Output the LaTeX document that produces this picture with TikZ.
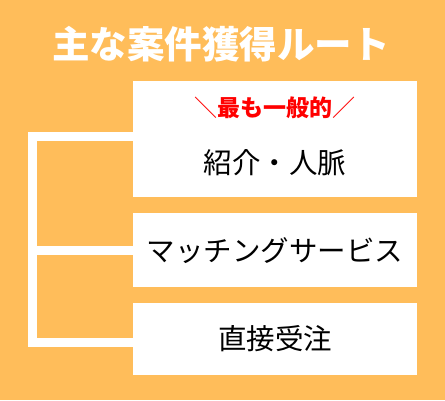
\documentclass[tikz,border=0pt]{standalone}
\usepackage{fontspec}
\usepackage{tikz}
\usetikzlibrary{positioning}
\newfontfamily\jpfont{Noto Sans CJK JP}
\definecolor{bgorange}{HTML}{FFBD5A}
\definecolor{popred}{HTML}{FF0000}

\begin{document}
\begin{tikzpicture}[x=1pt, y=-1pt, node distance=15pt and 10pt,
    route/.style={rectangle, fill=white, minimum width=284pt, inner sep=0pt, font=\jpfont\fontsize{28.5}{30}\selectfont},
    routetext/.style={inner sep=0pt, font=\jpfont\fontsize{28.5}{30}\selectfont},
    poptext/.style={inner sep=0pt, text=popred, font=\jpfont\fontsize{23}{24}\selectfont},
    headline/.style={inner sep=0pt, text=white, font=\jpfont\bfseries\fontsize{37.5}{40}\selectfont},
    bracket/.style={draw=white, line width=9pt, line join=miter}]
      \fill[bgorange] (0,0) rectangle (445,400);
      \useasboundingbox (0,0) rectangle (445,400);

      \node[headline] (title) at (221,44) {主な案件獲得ルート};

      \node[route, minimum height=116pt] (intro) at (275,139) {};
      \node[route, minimum height=74pt] (match) [below=16pt of intro] {マッチングサービス};
      \node[route, minimum height=72pt] (direct) [below=of match] {直接受注};

      \node[poptext] (pop) at (275,108) {＼{\bfseries 最も一般的}／};
      \node[routetext] (introtext) at (275,163) {紹介・人脈};

      % white bracket on the left
      \coordinate (spine) at (32,0);
      \coordinate (topend) at ([yshift=2.5pt]intro.west);
      \coordinate (bottomend) at ([yshift=-4pt]direct.west);
      \draw[bracket] (topend) -- (spine |- topend) -- (spine |- bottomend) -- (bottomend);
      \draw[bracket] (spine |- match.west) -- (match.west);
    \end{tikzpicture}
\end{document}
